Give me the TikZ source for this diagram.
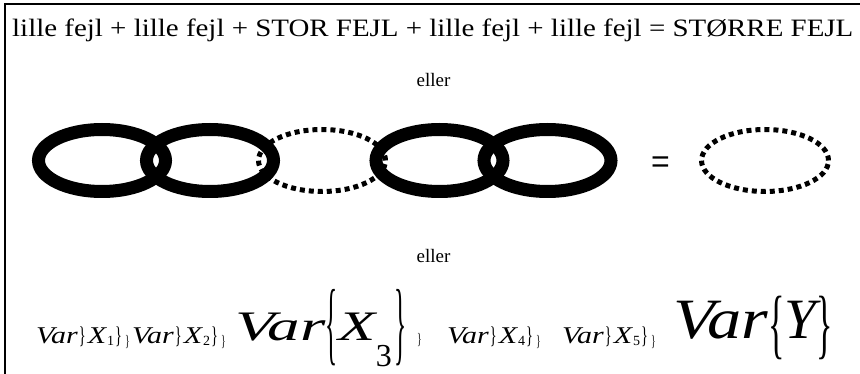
\documentclass[tikz,border=0pt]{standalone}
\usepackage{fontspec}
\setmainfont{Liberation Serif}
\newfontfamily\arialfont{Liberation Sans}
\usepackage{graphicx}

\newcommand{\wide}[2]{\scalebox{#1}[1]{#2}}
\newcommand{\rbrc}[2]{\raisebox{#1}{\scalebox{0.6}[#2]{\upshape\}}}}
\newcommand{\lbrc}[2]{\raisebox{#1}{\scalebox{0.6}[#2]{\upshape\{}}}
\newcommand{\tailbrc}{{\fontsize{16}{16}\selectfont\rbrc{-3pt}{1}}}
\newcommand{\smallvar}[1]{\fontsize{24}{24}\selectfont\itshape
  \wide{1.25}{Var}\kern1pt\rbrc{0pt}{1}\kern2pt\wide{1.25}{X}\kern1pt\raisebox{-2pt}{\fontsize{14}{14}\selectfont\upshape #1}\kern1pt\rbrc{0pt}{1}\kern3pt\tailbrc}

\begin{document}
\begin{tikzpicture}[x=1pt,y=-1pt,
  link/.style={line width=13pt},
  broken/.style={line width=5pt, dash pattern=on 5pt off 4pt},
  word/.style={inner sep=0pt, anchor=base west}
]
  \useasboundingbox (0,0) rectangle (860,374);
  \draw[line width=1.5pt] (5,374) -- (5,4) -- (860,4);

  \node[word] (sum) at (12,37) {\fontsize{25}{25}\selectfont\scalebox{1.157}[1]{lille fejl + lille fejl + STOR FEJL + lille fejl + lille fejl = STØRRE FEJL}};
  \node[word, anchor=base] (or1) at (433.5,87) {\fontsize{19}{19}\selectfont eller};
  \node[word, anchor=base] (or2) at (433.5,263) {\fontsize{19}{19}\selectfont eller};

  \draw[broken] (322,160.5) ellipse [x radius=63.5pt, y radius=31pt];
  \foreach \cx in {102,210,439.5,547.5}
    \draw[link] (\cx,160.5) ellipse [x radius=63.5pt, y radius=31pt];
  \node[inner sep=0pt] (eq) at (660.5,164.5) {\arialfont\fontsize{32}{32}\selectfont =};
  \draw[broken] (765,160.5) ellipse [x radius=63.5pt, y radius=31pt];

  \node[word] (t1) at (36,343) {\smallvar{1}};
  \node[word] (t2) at (132,343) {\smallvar{2}};
  \node[word] (t3) at (235,341) {\fontsize{42}{42}\selectfont\itshape\wide{1.55}{Var}\lbrc{-13pt}{2.2}\kern1pt\wide{1.45}{X}\raisebox{-26pt}{\fontsize{32}{32}\selectfont\upshape 3}\kern3pt\rbrc{-13pt}{2.2}\kern10pt\tailbrc};
  \node[word] (t4) at (447,343) {\smallvar{4}};
  \node[word] (t5) at (562,343) {\smallvar{5}};
  \node[word] (ty) at (673,338) {\fontsize{57}{57}\selectfont\itshape\wide{1.2}{Var}\lbrc{-11pt}{1.35}Y\rbrc{-11pt}{1.35}};
\end{tikzpicture}
\end{document}
